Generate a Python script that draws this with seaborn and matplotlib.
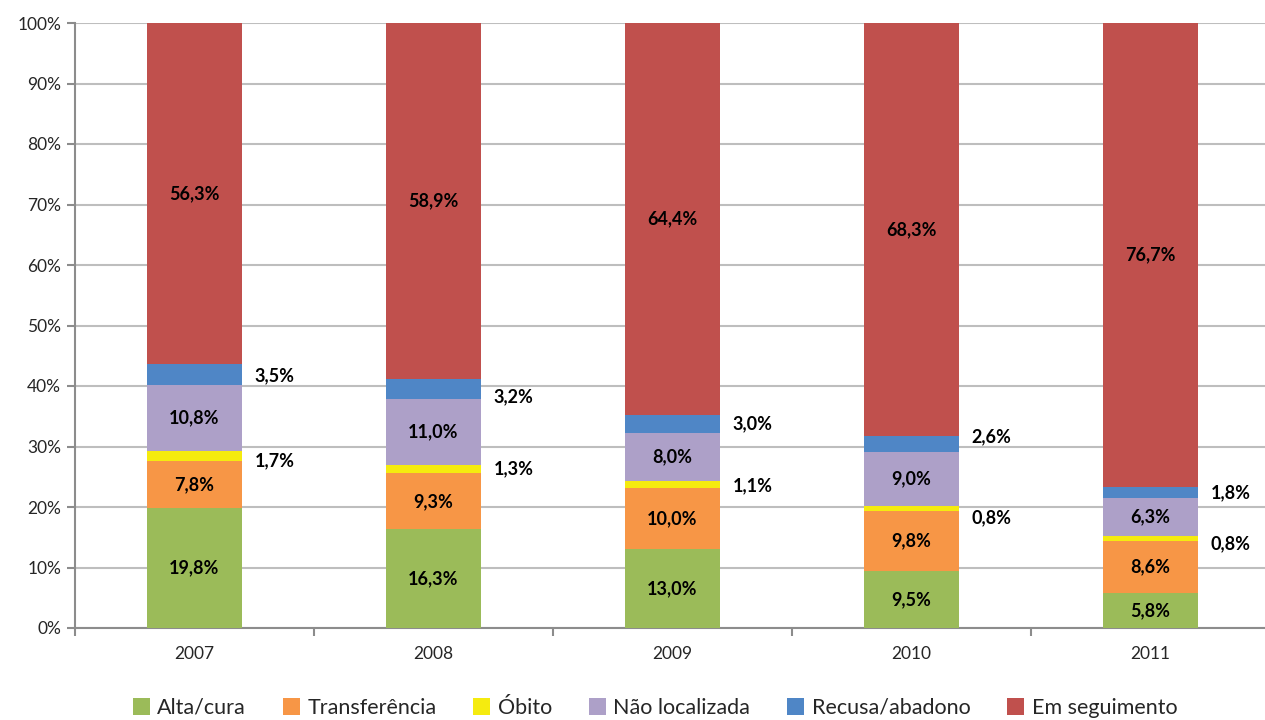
import numpy as np
import pandas as pd
import matplotlib
matplotlib.use("Agg")
import matplotlib.pyplot as plt
import seaborn as sns
from matplotlib.ticker import FixedLocator, PercentFormatter

years = ["2007", "2008", "2009", "2010", "2011"]
series = ["Alta/cura", "Transferência", "Óbito", "Não localizada", "Recusa/abadono", "Em seguimento"]
alta = [19.8, 16.3, 13.0, 9.5, 5.8]
transf = [7.8, 9.3, 10.0, 9.8, 8.6]
obito = [1.7, 1.3, 1.1, 0.8, 0.8]
naoloc = [10.8, 11.0, 8.0, 9.0, 6.3]
recusa = [3.5, 3.2, 3.0, 2.6, 1.8]
emseg = [56.3, 58.9, 64.4, 68.3, 76.7]
yticks = [0, 10, 20, 30, 40, 50, 60, 70, 80, 90, 100]

colors = ["#9BBB59", "#F79646", "#F5EB0F", "#ADA0C8", "#4F86C6", "#C0504D"]
outside = {2: [-0.9, 0.0, -0.2, -1.5, -0.9], 4: [-0.2, -1.2, 0.0, 1.2, -0.1]}

sns.set_theme(style="white")
plt.rcParams["font.family"] = ["Lato", "DejaVu Sans"]

vals = np.array([alta, transf, obito, naoloc, recusa, emseg])
totals = vals.sum(axis=0)
shares = vals / totals * 100

fig = plt.figure(figsize=(12.65, 7.2), dpi=100)
ax = fig.add_axes([75 / 1265, 92 / 720, 1190 / 1265, 605 / 720])

bottom = np.zeros(len(years))
for i, name in enumerate(series):
    df = pd.DataFrame({"year": years, "v": shares[i]})
    sns.barplot(data=df, x="year", y="v", ax=ax, color=colors[i], width=0.4,
                bottom=bottom, label=name, saturation=1, linewidth=0, zorder=3)
    for j in range(len(years)):
        c = bottom[j] + shares[i][j] / 2
        txt = f"{vals[i][j]:.1f}%".replace(".", ",")
        if i in outside:
            ax.text(j + 0.335, c + outside[i][j], txt, ha="center", va="center",
                    fontsize=13, fontweight="bold", color="black", zorder=5)
        else:
            ax.text(j, c, txt, ha="center", va="center", fontsize=13,
                    fontweight="bold", color="black", zorder=5)
    bottom = bottom + shares[i]

handles, labels = ax.get_legend_handles_labels()
if ax.get_legend() is not None:
    ax.get_legend().remove()

ax.set_ylim(0, 100)
ax.set_xlim(-0.5, -0.5 + 1190 / 239)
ax.yaxis.set_major_locator(FixedLocator(yticks))
ax.yaxis.set_major_formatter(PercentFormatter(decimals=0))
ax.grid(axis="y", color="#BEBEBE", linewidth=1.5, zorder=0)
ax.set_axisbelow(True)

ax.xaxis.set_major_locator(FixedLocator([-0.5, 0.5, 1.5, 2.5, 3.5, 4.5]))
ax.xaxis.set_minor_locator(FixedLocator(range(len(years))))
ax.set_xticklabels([""] * 6)
ax.set_xticklabels(years, minor=True)
ax.tick_params(axis="x", which="major", length=6, width=1.5, color="#8C8C8C", direction="out", bottom=True)
ax.tick_params(axis="x", which="minor", length=0, labelsize=12.5, pad=13)
ax.tick_params(axis="y", length=6, width=1.5, color="#8C8C8C", direction="out", left=True, labelsize=12.5, pad=4)
ax.set_xlabel("")
ax.set_ylabel("")

for s in ["top", "right"]:
    ax.spines[s].set_visible(False)
for s in ["left", "bottom"]:
    ax.spines[s].set_color("#8C8C8C")
    ax.spines[s].set_linewidth(1.5)

fig.legend(handles, labels, loc="center", bbox_to_anchor=(655 / 1265, 1 - 708 / 720),
           ncol=6, frameon=False, fontsize=15.5, handlelength=0.8, handleheight=0.8,
           handletextpad=0.35, columnspacing=1.7)

fig.savefig("out.png", dpi=100)
